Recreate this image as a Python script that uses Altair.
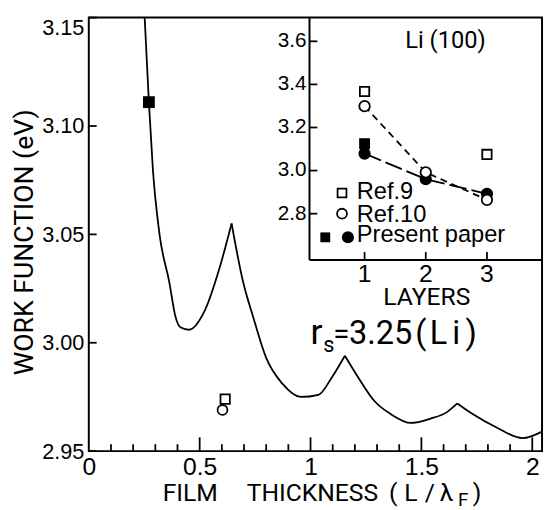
import altair as alt
import pandas as pd

# ---------------- main panel: work function vs film thickness ----------------
arc1_x = [0.252, 0.271, 0.289, 0.319, 0.363, 0.391, 0.415, 0.452, 0.519, 0.591, 0.644]
arc1_y = [3.150, 3.111, 3.080, 3.050, 3.028, 3.012, 3.007, 3.006, 3.014, 3.035, 3.055]
arc2_x = [0.644, 0.696, 0.741, 0.800, 0.874, 0.956, 1.036, 1.096, 1.155]
arc2_y = [3.055, 3.028, 3.012, 2.993, 2.981, 2.975, 2.976, 2.984, 2.994]
arc3_x = [1.155, 1.215, 1.289, 1.363, 1.452, 1.541, 1.615, 1.662]
arc3_y = [2.994, 2.984, 2.973, 2.967, 2.963, 2.965, 2.968, 2.972]
arc4_x = [1.662, 1.733, 1.837, 1.956, 2.044]
arc4_y = [2.972, 2.967, 2.961, 2.956, 2.959]

present_main_x = [0.271]
present_main_y = [3.111]
ref9_main_x = [0.615]
ref9_main_y = [2.974]
ref10_main_x = [0.603]
ref10_main_y = [2.969]

main_x_labels = [0, 0.5, 1, 1.5, 2]
main_y_labels = [2.95, 3.00, 3.05, 3.10, 3.15]
main_x_minor = [0.1, 0.2, 0.3, 0.4, 0.6, 0.7, 0.8, 0.9, 1.1, 1.2, 1.3, 1.4, 1.6, 1.7, 1.8, 1.9]
main_x_major = [0.5, 1.0, 1.5, 2.0]

# ---------------- inset: Li(100) vs layers ----------------
layers = [1, 2, 3]
ref9_layers = [1, 3]
ref9_wf = [3.367, 3.075]
ref10_wf = [3.299, 2.992, 2.864]
present_wf = [3.079, 2.960, 2.892]
present_sq_layers = [1]
present_sq_wf = [3.125]

inset_x_labels = [1, 2, 3]
inset_y_labels = [2.8, 3.0, 3.2, 3.4, 3.6]

REG = "Liberation Sans"
TIT = "Roboto"
W, H = 460, 440
OX, OY = 90, 14          # page position of the plot area
IX0, IY1 = 224, 246      # inset left edge / bottom edge inside the plot area (px)

X_DOM = [0, 2.044]
Y_DOM = [2.95, 3.15]
IX_DOM = [0.1, 3.9]
IY_DOM = [2.585, 3.71]

UX = (X_DOM[1] - X_DOM[0]) / W          # main data units per pixel
UY = (Y_DOM[1] - Y_DOM[0]) / H
SIX = (W - IX0) / (IX_DOM[1] - IX_DOM[0])   # inset pixels per unit
SIY = IY1 / (IY_DOM[1] - IY_DOM[0])
UIX = 1 / SIX
UIY = 1 / SIY


def px(v):
    return v - OX


def py(v):
    return v - OY


XS = alt.Scale(domain=X_DOM, nice=False, zero=False)
YS = alt.Scale(domain=Y_DOM, nice=False, zero=False)

main_x_axis = alt.Axis(values=main_x_labels, format="~g", labelFont=REG, labelFontSize=25,
                       labelPadding=4, ticks=False, domain=False, grid=False,
                       title=None, labelFlush=False, labelOverlap=False, labelColor="black")
main_y_axis = alt.Axis(values=main_y_labels, format=".2f", labelFont=REG, labelFontSize=22,
                       labelPadding=5, ticks=False, domain=False, grid=False,
                       title=None, labelOverlap=False, labelColor="black",
                       labelBaseline={"condition": {"test": "datum.value >= 3.149", "value": "top"},
                                      "value": "middle"})


def ix(field):
    # inset x value -> main x data coordinate (inset box sits in the top-right corner)
    return f"{X_DOM[0]} + ({IX0} + (datum.{field} - {IX_DOM[0]}) * {SIX}) * {UX}"


def iy(field):
    return f"{Y_DOM[1]} - (({IY_DOM[1]} - datum.{field}) * {SIY}) * {UY}"


def text(s, x, y, size, font=TIT, align="left", baseline="alphabetic", angle=0):
    return alt.Chart(pd.DataFrame({"t": [0]})).mark_text(
        text=s, font=font, fontSize=size, align=align, baseline=baseline,
        angle=angle, color="black"
    ).encode(x=alt.value(px(x)), y=alt.value(py(y)))


def XE(f):
    return alt.X(f"{f}:Q", scale=XS, axis=main_x_axis)


def YE(f):
    return alt.Y(f"{f}:Q", scale=YS, axis=main_y_axis)


# ---- main layers ----
curve_df = pd.concat([
    pd.DataFrame({"x": arc1_x, "y": arc1_y, "seg": "a"}),
    pd.DataFrame({"x": arc2_x, "y": arc2_y, "seg": "b"}),
    pd.DataFrame({"x": arc3_x, "y": arc3_y, "seg": "c"}),
    pd.DataFrame({"x": arc4_x, "y": arc4_y, "seg": "d"}),
])

curve = alt.Chart(curve_df).mark_line(color="black", strokeWidth=1.8, interpolate="monotone", clip=True).encode(
    x=XE("x"), y=YE("y"), detail="seg:N")

pres_main = alt.Chart(pd.DataFrame({"x": present_main_x, "y": present_main_y})).mark_point(
    shape="square", filled=True, color="black", size=144, opacity=1).encode(x=XE("x"), y=YE("y"))
ref9_main = alt.Chart(pd.DataFrame({"x": ref9_main_x, "y": ref9_main_y})).mark_point(
    shape="square", filled=True, fill="white", stroke="black", strokeWidth=1.8, size=90, opacity=1).encode(
    x=XE("x"), y=YE("y"))
ref10_main = alt.Chart(pd.DataFrame({"x": ref10_main_x, "y": ref10_main_y})).mark_point(
    shape="circle", filled=True, fill="white", stroke="black", strokeWidth=1.8, size=100, opacity=1).encode(
    x=XE("x"), y=YE("y"))


def vticks(values, length_px):
    df = pd.DataFrame({"tv": values})
    return alt.Chart(df).transform_calculate(
        lo=f"{Y_DOM[0]}", hi=f"{Y_DOM[0] + length_px * UY}"
    ).mark_rule(color="black", strokeWidth=1.8).encode(x=XE("tv"), y=YE("lo"), y2="hi:Q")


def hticks(values, length_px):
    df = pd.DataFrame({"tv": values})
    return alt.Chart(df).transform_calculate(
        lo=f"{X_DOM[0]}", hi=f"{X_DOM[0] + length_px * UX}"
    ).mark_rule(color="black", strokeWidth=1.8).encode(y=YE("tv"), x=XE("lo"), x2="hi:Q")


main_ticks = [vticks(main_x_minor, 7), vticks(main_x_major, 14), hticks(main_y_labels, 8)]

main_texts = [
    text("WORK FUNCTION (eV)", 25, 242, 27, align="center", baseline="middle", angle=270),
    text("FILM", 193, 505, 25, align="center"),
    text("THICKNESS", 317, 505, 25, align="center"),
    text("(", 399, 505, 25, align="center"),
    text("L", 417, 505, 25, align="center"),
    text("/", 436, 505, 25, align="center"),
    text("λ", 453, 505, 25, align="center"),
    text("F", 470, 510, 19, align="center"),
    text(")", 484, 505, 25, align="center"),
    text("r", 315, 345, 36),
    text("s", 328, 353, 22),
    text("=", 338, 345, 30),
    text("3.25", 354, 345, 33),
    text("(", 427, 345, 33, align="center"),
    text("L", 445, 345, 33, align="center"),
    text("i", 463, 345, 33, align="center"),
    text(")", 478, 345, 33, align="center"),
]

# ---- inset layers (mapped into the corner of the main plot area) ----
ref10_df = pd.DataFrame({"l": layers, "w": ref10_wf})
pres_df = pd.DataFrame({"l": layers, "w": present_wf})


def inset(df):
    return alt.Chart(df).transform_calculate(X=ix("l"), Y=iy("w"))


ref10_line = inset(ref10_df).mark_line(color="black", strokeWidth=1.8, strokeDash=[7, 5]).encode(
    x=XE("X"), y=YE("Y"))
pres_line = inset(pres_df).mark_line(color="black", strokeWidth=1.8, strokeDash=[18, 5]).encode(
    x=XE("X"), y=YE("Y"))
ref9_pts = inset(pd.DataFrame({"l": ref9_layers, "w": ref9_wf})).mark_point(
    shape="square", filled=True, fill="white", stroke="black", strokeWidth=1.8, size=90, opacity=1).encode(
    x=XE("X"), y=YE("Y"))
pres_sq = inset(pd.DataFrame({"l": present_sq_layers, "w": present_sq_wf})).mark_point(
    shape="square", filled=True, color="black", size=121, opacity=1).encode(x=XE("X"), y=YE("Y"))
pres_pts = inset(pres_df).mark_point(
    shape="circle", filled=True, color="black", size=154, opacity=1).encode(x=XE("X"), y=YE("Y"))
ref10_pts = inset(ref10_df).mark_point(
    shape="circle", filled=True, fill="white", stroke="black", strokeWidth=1.8, size=113, opacity=1).encode(
    x=XE("X"), y=YE("Y"))

# inset frame (left and bottom edges; top and right are the main frame)
inset_frame = alt.Chart(pd.DataFrame({"k": [0, 1]})).transform_calculate(
    la=f"{IX_DOM[0]}", lb=f"datum.k == 0 ? {IX_DOM[0]} : {IX_DOM[1]}",
    wa=f"{IY_DOM[0]}", wb=f"datum.k == 0 ? {IY_DOM[1]} : {IY_DOM[0]}",
).transform_calculate(
    Xa=ix("la"), Xb=ix("lb"), Ya=iy("wa"), Yb=iy("wb")
).mark_rule(color="black", strokeWidth=2).encode(x=XE("Xa"), x2="Xb:Q", y=YE("Ya"), y2="Yb:Q")

inset_xt = alt.Chart(pd.DataFrame({"tl": inset_x_labels})).transform_calculate(
    wa=f"{IY_DOM[0]}", wb=f"{IY_DOM[0] + 8 * UIY}"
).transform_calculate(X=ix("tl"), Ya=iy("wa"), Yb=iy("wb")).mark_rule(
    color="black", strokeWidth=1.8).encode(x=XE("X"), y=YE("Ya"), y2="Yb:Q")
inset_yt = alt.Chart(pd.DataFrame({"tw": inset_y_labels})).transform_calculate(
    la=f"{IX_DOM[0]}", lb=f"{IX_DOM[0] + 8 * UIX}"
).transform_calculate(Y=iy("tw"), Xa=ix("la"), Xb=ix("lb")).mark_rule(
    color="black", strokeWidth=1.8).encode(y=YE("Y"), x=XE("Xa"), x2="Xb:Q")

inset_xl = alt.Chart(pd.DataFrame({"tl": inset_x_labels})).transform_calculate(
    wa=f"{IY_DOM[0]}", lab="format(datum.tl, 'd')"
).transform_calculate(X=ix("tl"), Y=iy("wa")).mark_text(
    font=REG, fontSize=25, align="center", baseline="top", dy=2, color="black").encode(
    x=XE("X"), y=YE("Y"), text="lab:N")
inset_yl = alt.Chart(pd.DataFrame({"tw": inset_y_labels})).transform_calculate(
    la=f"{IX_DOM[0]}", lab="format(datum.tw, '.1f')"
).transform_calculate(X=ix("la"), Y=iy("tw")).mark_text(
    font=REG, fontSize=21, align="right", baseline="middle", dx=-3, color="black").encode(
    x=XE("X"), y=YE("Y"), text="lab:N")


def sym(x, y, shape, size, filled_black):
    m = alt.Chart(pd.DataFrame({"t": [0]}))
    if filled_black:
        mk = m.mark_point(shape=shape, filled=True, color="black", size=size, opacity=1)
    else:
        mk = m.mark_point(shape=shape, filled=True, fill="white", stroke="black",
                          strokeWidth=1.8, size=size, opacity=1)
    return mk.encode(x=alt.value(px(x)), y=alt.value(py(y)))


inset_extra = [
    sym(347, 192, "square", 81, False),
    sym(347, 213, "circle", 100, False),
    sym(330, 237, "square", 100, True),
    sym(353, 237, "circle", 150, True),
    text("Ref.9", 362, 191, 24, font=REG, baseline="middle"),
    text("Ref.10", 362, 214, 24, font=REG, baseline="middle"),
    text("Present paper", 362, 235, 24, font=REG, baseline="middle"),
    text("Li (100)", 452, 38, 24, align="center", baseline="middle"),
    text("LAYERS", 433, 298, 25, align="center", baseline="middle"),
]

all_layers = ([curve] + main_ticks +
              [pres_main, ref9_main, ref10_main,
               inset_frame, inset_xt, inset_yt, inset_xl, inset_yl,
               ref10_line, pres_line, ref9_pts, pres_sq, pres_pts, ref10_pts] +
              main_texts + inset_extra)

chart = alt.layer(*all_layers).properties(
    width=W, height=H,
    autosize=alt.AutoSizeParams(type="none"),
    padding={"left": 82, "top": 6, "right": 2, "bottom": 56},
    background="white",
).configure_view(stroke="black", strokeWidth=2)

chart.save("out.html", embed_options={"renderer": "svg", "actions": False})
